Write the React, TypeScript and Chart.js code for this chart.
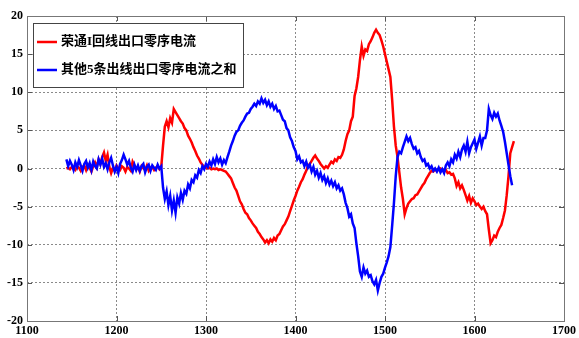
import React, { useEffect, useRef } from "react";
import { Chart, registerables } from "chart.js";

Chart.register(...registerables);

const xValues = [
  1144, 1146, 1148, 1150, 1152, 1154, 1156, 1158, 1160, 1162,
  1164, 1166, 1168, 1170, 1172, 1174, 1176, 1178, 1180, 1182,
  1184, 1186, 1188, 1190, 1192, 1194, 1196, 1198, 1200, 1202,
  1204, 1206, 1208, 1210, 1212, 1214, 1216, 1218, 1220, 1222,
  1224, 1226, 1228, 1230, 1232, 1234, 1236, 1238, 1240, 1242,
  1244, 1246, 1248, 1250, 1252, 1254, 1256, 1258, 1260, 1262,
  1264, 1266, 1268, 1270, 1272, 1274, 1276, 1278, 1280, 1282,
  1284, 1286, 1288, 1290, 1292, 1294, 1296, 1298, 1300, 1302,
  1304, 1306, 1308, 1310, 1312, 1314, 1316, 1318, 1320, 1322,
  1324, 1326, 1328, 1330, 1332, 1334, 1336, 1338, 1340, 1342,
  1344, 1346, 1348, 1350, 1352, 1354, 1356, 1358, 1360, 1362,
  1364, 1366, 1368, 1370, 1372, 1374, 1376, 1378, 1380, 1382,
  1384, 1386, 1388, 1390, 1392, 1394, 1396, 1398, 1400, 1402,
  1404, 1406, 1408, 1410, 1412, 1414, 1416, 1418, 1420, 1422,
  1424, 1426, 1428, 1430, 1432, 1434, 1436, 1438, 1440, 1442,
  1444, 1446, 1448, 1450, 1452, 1454, 1456, 1458, 1460, 1462,
  1464, 1466, 1468, 1470, 1472, 1474, 1476, 1478, 1480, 1482,
  1484, 1486, 1488, 1490, 1492, 1494, 1496, 1498, 1500, 1502,
  1504, 1506, 1508, 1510, 1512, 1514, 1516, 1518, 1520, 1522,
  1524, 1526, 1528, 1530, 1532, 1534, 1536, 1538, 1540, 1542,
  1544, 1546, 1548, 1550, 1552, 1554, 1556, 1558, 1560, 1562,
  1564, 1566, 1568, 1570, 1572, 1574, 1576, 1578, 1580, 1582,
  1584, 1586, 1588, 1590, 1592, 1594, 1596, 1598, 1600, 1602,
  1604, 1606, 1608, 1610, 1612, 1614, 1616, 1618, 1620, 1622,
  1624, 1626, 1628, 1630, 1632, 1634, 1636, 1638, 1640, 1642,
  1644,
];

const redValues = [
  0, 0.1, -0.1, 0.2, 0, -0.2, 0.3, 0.1, -0.3, 0.2,
  0.4, -0.2, 0.5, 0.1, -0.4, 0.3, 0.8, 0.2, 1.2, 0.6,
  1.5, 2.1, 1.0, 1.8, 0.2, -0.6, 0.1, -0.3, 0.4, 0.0,
  -0.2, 0.3, 0.1, -0.4, 0.2, 0.0, -0.3, 0.9, 0.4, -0.1,
  0.2, -0.4, 0.3, 0.0, -0.2, 0.4, -0.3, 0.1, 0.2, -0.2,
  0.1, 0.3, -0.1, 0.2, 3.0, 5.5, 6.2, 5.4, 6.6, 6.0,
  7.8, 7.4, 7.0, 6.6, 6.2, 5.9, 5.3, 5.0, 4.3, 3.9,
  3.4, 2.8, 2.3, 1.7, 1.3, 0.8, 0.5, 0.2, 0.1, 0.0,
  0.1, -0.1, 0.0, -0.1, 0.0, -0.2, -0.1, -0.2, -0.3, -0.4,
  -0.7, -1.0, -1.3, -1.9, -2.5, -2.9, -3.6, -4.3, -4.7, -5.3,
  -5.8, -6.0, -6.5, -6.8, -7.2, -7.5, -7.8, -8.3, -8.6, -9.0,
  -9.3, -9.7, -9.4, -9.8, -9.3, -9.6, -9.1, -9.4, -8.8, -8.6,
  -8.1, -7.6, -7.3, -6.8, -6.3, -5.6, -4.9, -4.2, -3.6, -2.9,
  -2.4, -1.8, -1.4, -0.8, -0.3, 0.4, 0.6, 1.0, 1.4, 1.7,
  1.3, 1.0, 0.6, 0.3, 0.0, 0.3, 0.1, 0.5, 0.9, 0.7,
  1.2, 1.0, 1.5, 1.4, 1.8, 2.5, 3.6, 4.5, 5.0, 6.2,
  6.8, 9.5, 10.5, 12.0, 14.2, 16.0, 14.8, 15.6, 15.4, 16.3,
  16.7, 17.2, 17.8, 18.2, 17.8, 17.5, 16.8, 16.0, 15.0, 14.0,
  13.0, 12.0, 9.0, 5.5, 3.0, 1.5, -0.5, -2.5, -4.0, -6.0,
  -5.2, -4.6, -4.3, -4.0, -3.9, -3.5, -3.4, -3.0, -2.6, -2.2,
  -1.9, -1.4, -1.0, -0.6, -0.3, -0.4, -0.1, -0.3, -0.1, 0.0,
  -0.2, -0.4, -0.2, -0.6, -0.5, -0.8, -0.7, -1.3, -2.3, -1.8,
  -2.6, -2.2, -2.8, -3.5, -4.2, -3.6, -4.5, -3.9, -4.3, -4.8,
  -4.6, -5.0, -5.3, -5.0, -5.6, -6.0, -8.0, -9.8, -9.4, -8.8,
  -9.0, -8.3, -7.8, -7.4, -6.5, -5.5, -3.5, -1.0, 2.0, 2.8,
  3.6,
];

const blueValues = [
  1.2, 0.3, 1.0, 0.5, -0.2, 0.8, 0.2, 1.1, 0.4, -0.3,
  0.6, 1.0, 0.1, 0.7, -0.2, 0.9, 0.3, 0.0, 1.2, 0.5,
  1.3, 0.2, 0.7, -0.1, 0.8, 1.4, 0.4, -0.4, 0.2, -0.6,
  0.6, 1.1, 1.8, 1.2, 0.5, 1.0, 0.1, -0.4, 0.5, -0.2,
  0.4, -0.3, 0.3, 0.6, -0.5, 0.2, 0.5, -0.3, 0.4, 0.1,
  -0.2, 0.5, 0.0, 0.3, -2.5, -4.0, -3.0, -4.8, -3.6, -5.5,
  -4.2, -5.8, -3.8, -4.6, -3.2, -4.1, -2.9, -3.3, -2.1, -2.6,
  -1.5, -1.8, -0.9, -1.2, -0.2, -0.6, 0.3, -0.1, 0.6, 0.2,
  0.9, 0.4, 1.2, 0.6, 1.5, 0.8, 1.3, 0.5, 1.1, 0.7,
  1.5, 2.2, 3.0, 3.6, 4.3, 4.8, 5.0, 5.6, 6.0, 6.3,
  6.8, 7.2, 7.3, 7.8, 8.1, 8.5, 8.2, 8.8, 8.5, 9.2,
  8.6, 9.0, 8.3, 8.8, 8.1, 8.5, 7.8, 8.2, 7.5, 7.6,
  7.0, 6.4, 6.2, 5.3, 5.0, 4.1, 3.6, 2.8, 2.3, 1.2,
  1.6, 0.8, 1.0, 0.3, 0.9, 0.1, 0.5, -0.4, 0.2, -0.8,
  -0.3, -1.2, -0.6, -1.5, -1.0, -1.9, -1.3, -2.1, -1.6, -2.3,
  -1.8, -2.6, -2.2, -2.9, -2.6, -3.4, -4.5, -5.2, -6.3, -6.0,
  -7.2, -7.8, -9.8, -11.5, -13.5, -14.2, -13.0, -13.8, -13.4, -14.2,
  -14.0, -14.8, -15.2, -14.6, -16.0, -15.0, -14.2, -13.8, -13.0, -12.3,
  -11.5, -10.3, -7.5, -4.5, -1.0, 1.5, 2.2, 2.0, 2.8, 3.5,
  4.2, 3.6, 4.0, 3.2, 2.6, 2.8, 2.0, 2.3, 1.5, 1.0,
  1.2, 0.4, 0.6, 0.0, 0.3, -0.3, 0.0, -0.4, 0.1, -0.5,
  -0.1, -0.6, 0.4, 0.8, 0.3, 1.2, 0.8, 1.8, 1.3, 2.2,
  1.5, 2.5, 3.0, 2.2, 3.5, 2.0, 2.8, 3.3, 3.8, 2.6,
  3.4, 4.2, 3.0, 4.0, 4.0, 5.0, 7.8, 7.0, 6.5, 7.3,
  6.8, 7.2, 6.3, 5.6, 4.8, 3.5, 2.0, 0.5, -1.0, -2.2,
];

const legendLabels = ["荣通I回线出口零序电流", "其他5条出线出口零序电流之和"];
const seriesColors = ["#ff0000", "#0000ff"];

const tickFont = { family: "'Liberation Serif', 'Times New Roman', serif", size: 12, weight: "bold" as const };

const framePlugin = {
  id: "framePlugin",
  afterDraw(chart: any) {
    const { ctx, chartArea: a, scales } = chart;
    ctx.save();
    // inner tick marks
    ctx.strokeStyle = "#555";
    ctx.lineWidth = 1;
    ctx.beginPath();
    scales.x.ticks.forEach((t: any) => {
      const px = Math.round(scales.x.getPixelForValue(t.value)) + 0.5;
      ctx.moveTo(px, a.bottom);
      ctx.lineTo(px, a.bottom - 5);
      ctx.moveTo(px, a.top);
      ctx.lineTo(px, a.top + 5);
    });
    scales.y.ticks.forEach((t: any) => {
      const py = Math.round(scales.y.getPixelForValue(t.value)) + 0.5;
      ctx.moveTo(a.left, py);
      ctx.lineTo(a.left + 5, py);
      ctx.moveTo(a.right, py);
      ctx.lineTo(a.right - 5, py);
    });
    ctx.stroke();
    // box
    ctx.strokeStyle = "#777";
    ctx.strokeRect(Math.round(a.left) + 0.5, Math.round(a.top) + 0.5, Math.round(a.right - a.left), Math.round(a.bottom - a.top));

    // legend
    const lx = a.left + 6;
    const ly = a.top + 7;
    const lw = 210;
    const lh = 64;
    ctx.fillStyle = "#ffffff";
    ctx.fillRect(lx, ly, lw, lh);
    ctx.strokeStyle = "#444";
    ctx.strokeRect(lx + 0.5, ly + 0.5, lw, lh);
    const rows = [ly + 19, ly + 47];
    ctx.font = "bold 13px 'Liberation Serif', 'Noto Sans CJK SC', serif";
    ctx.textBaseline = "middle";
    ctx.textAlign = "left";
    legendLabels.forEach((label, i) => {
      ctx.strokeStyle = seriesColors[i];
      ctx.lineWidth = 2.5;
      ctx.beginPath();
      ctx.moveTo(lx + 4, rows[i]);
      ctx.lineTo(lx + 24, rows[i]);
      ctx.stroke();
      ctx.fillStyle = "#000";
      ctx.fillText(label, lx + 28, rows[i]);
    });
    ctx.restore();
  },
};

export default function App() {
  const canvasRef = useRef<HTMLCanvasElement | null>(null);

  useEffect(() => {
    if (!canvasRef.current) return;
    const redData = redValues.map((v, i) => ({ x: xValues[i], y: v }));
    const blueData = blueValues.map((v, i) => ({ x: xValues[i], y: v }));
    const chart = new Chart(canvasRef.current, {
      type: "line",
      data: {
        datasets: [
          {
            label: legendLabels[0],
            data: redData,
            borderColor: seriesColors[0],
            borderWidth: 2.5,
            pointRadius: 0,
            tension: 0,
            fill: false,
            order: 1,
          },
          {
            label: legendLabels[1],
            data: blueData,
            borderColor: seriesColors[1],
            borderWidth: 2.5,
            pointRadius: 0,
            tension: 0,
            fill: false,
            order: 0,
          },
        ],
      },
      options: {
        responsive: false,
        animation: false,
        layout: { padding: { top: 16, right: 12, left: 0, bottom: 0 } },
        plugins: { legend: { display: false }, tooltip: { enabled: false } },
        scales: {
          x: {
            type: "linear",
            min: 1100,
            max: 1700,
            ticks: {
              stepSize: 100,
              color: "#000",
              font: tickFont,
              padding: 3,
              maxRotation: 0,
              autoSkip: false,
              callback: (v: any) => String(v),
            },
            grid: { color: "#8a8a8a", lineWidth: 1, drawTicks: false },
            border: { display: false, dash: [2, 2] },
            afterFit: (s: any) => { s.height = 17; },
          },
          y: {
            type: "linear",
            min: -20,
            max: 20,
            ticks: { stepSize: 5, color: "#000", font: tickFont, padding: 4, callback: (v: any) => String(v) },
            grid: { color: "#8a8a8a", lineWidth: 1, drawTicks: false },
            border: { display: false, dash: [2, 2] },
            afterFit: (s: any) => { s.width = 27; },
          },
        },
      },
      plugins: [framePlugin],
    });
    return () => chart.destroy();
  }, []);

  return (
    <div style={{ position: "absolute", left: 0, top: 0, width: 579, height: 338, background: "#fff" }}>
      <canvas ref={canvasRef} width={579} height={338} style={{ display: "block" }} />
    </div>
  );
}
